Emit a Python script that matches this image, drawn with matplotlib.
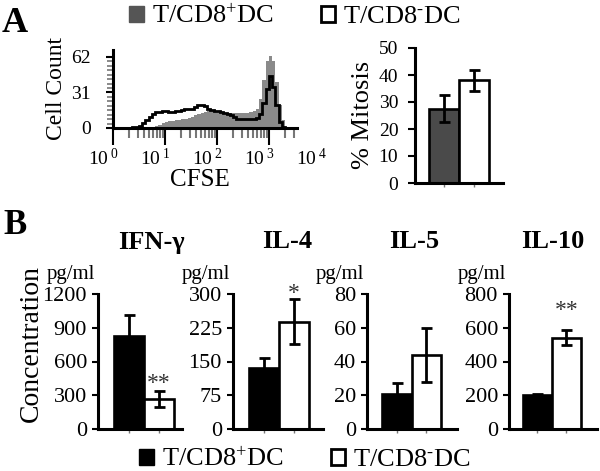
import numpy as np
import matplotlib
matplotlib.use("Agg")
import matplotlib.pyplot as plt
from matplotlib.patches import Patch

plt.rcParams['font.family'] = ['Liberation Serif', 'DejaVu Serif']
plt.rcParams['mathtext.fontset'] = 'custom'
plt.rcParams['mathtext.rm'] = 'Liberation Serif'
plt.rcParams['mathtext.it'] = 'Liberation Serif:italic'
plt.rcParams['mathtext.bf'] = 'Liberation Serif:bold'

# ---- data ----
groups = ['T/CD8$^{+}$DC', 'T/CD8$^{\u2010}$DC']

# CFSE histogram, 16 channels per decade starting at 10^0
channels_per_decade = 16
cfse_decades = [0, 1, 2, 3, 4]
cd8pos_counts = [0, 0, 0, 0, 0, 0, 0, 0, 0, 0, 0,
                 0.5, 1, 2, 3, 4, 5, 6, 6, 7, 7, 8, 8, 9, 10, 11, 12, 13, 14, 15, 15,
                 14, 14, 13, 13, 13, 13, 13, 13, 13, 13, 13, 14, 15, 17, 25, 42, 58, 63,
                 58, 40, 20, 7, 1,
                 0, 0, 0]
cd8neg_counts = [0, 0, 0, 0, 0, 0,
                 0.5, 1, 2, 4, 7, 10, 12, 14, 14, 15, 15, 14, 14, 15, 15, 16, 17, 17, 17,
                 18, 20, 20, 19, 17, 16, 15, 15, 14, 13, 12, 11, 10, 8, 8, 8, 8, 8, 8, 9,
                 12, 22, 34, 45, 36, 20, 5, 1,
                 0, 0, 0, 0]
count_ticks = [0, 31, 62]

mitosis_mean = [27.5, 38]
mitosis_err = [5, 4]

cytokines = ['IFN-γ', 'IL-4', 'IL-5', 'IL-10']
cyto_pos = [830, 135, 20.5, 200]
cyto_pos_err = [180, 22, 6.5, 8]
cyto_neg = [270, 238, 44, 540]
cyto_neg_err = [70, 50, 16, 45]
cyto_ticks = [[0, 300, 600, 900, 1200], [0, 75, 150, 225, 300],
              [0, 20, 40, 60, 80], [0, 200, 400, 600, 800]]
cyto_stars = ['**', '*', '', '**']

# ---- layout helpers ----
W, H = 600, 471
fig = plt.figure(figsize=(6, 4.71), dpi=100)


def box(l, t, r, b):
    return [l / W, 1 - b / H, (r - l) / W, (b - t) / H]


def pt(px):
    return px * 72 / 100


LW = 1.9
dark_gray = '#4a4a4a'
hist_gray = '#8a8a8a'

# ---- panel A: CFSE histogram ----
ax = fig.add_axes(box(113, 50, 297, 128))
edges = 10 ** (np.arange(len(cd8pos_counts) + 1) / channels_per_decade)
ax.stairs(cd8pos_counts, edges, fill=True, color=hist_gray, zorder=1)
ax.stairs(cd8neg_counts, edges, color='black', lw=2, zorder=2)
ax.set_xscale('log')
ax.set_xlim(1, 10 ** 3.54)
ax.set_ylim(0, 68)
ax.set_yticks(count_ticks)
ax.set_yticks(np.linspace(0, 62, 17), minor=True)
ax.set_xticklabels([])
ax.set_xticklabels([], minor=True)
ax.tick_params(axis='x', which='major', length=12, width=1.5, direction='out')
ax.tick_params(axis='x', which='minor', length=7, width=1.5, color='#777777', direction='out')
ax.tick_params(axis='y', which='major', length=5, width=1.5, pad=11, labelsize=14)
ax.tick_params(axis='y', which='minor', length=4, width=1.2, color='#777777')
for s in ['top', 'right']:
    ax.spines[s].set_visible(False)
for s in ['left', 'bottom']:
    ax.spines[s].set_linewidth(2.2)
for d in cfse_decades:
    ax.annotate(r'$\mathregular{10^{\ %d}}$' % d, xy=(10 ** d, 0),
                xycoords=ax.get_xaxis_transform(), xytext=(pt(-9), pt(-20)),
                textcoords='offset points', ha='center', va='top', fontsize=14,
                annotation_clip=False)
fig.text(56 / W, 1 - 89 / H, 'Cell Count', rotation=90, ha='center', va='center', fontsize=17)
fig.text(200 / W, 1 - 180 / H, 'CFSE', ha='center', va='center', fontsize=18)

# ---- panel A: % mitosis ----
ax = fig.add_axes(box(415, 48, 503, 183))
ax.bar([0, 1], mitosis_mean, width=1, color=[dark_gray, 'white'],
       edgecolor='black', linewidth=LW, zorder=2)
ax.errorbar([0, 1], mitosis_mean, yerr=mitosis_err, fmt='none', ecolor='black',
            elinewidth=2, capsize=pt(5.5), capthick=2, zorder=3)
ax.set_xlim(-0.967, 1.967)
ax.set_ylim(0, 50)
ax.set_yticks([0, 10, 20, 30, 40, 50])
ax.set_xticks([0, 1])
ax.set_xticklabels([])
ax.tick_params(axis='y', length=5, width=1.5, pad=7, labelsize=14)
ax.tick_params(axis='x', length=3, width=1, color='#777777')
for s in ['top', 'right']:
    ax.spines[s].set_visible(False)
for s in ['left', 'bottom']:
    ax.spines[s].set_linewidth(2.2)
fig.text(363 / W, 1 - 115 / H, '% Mitosis', rotation=90, ha='center', va='center', fontsize=19)

fig.text(15 / W, 1 - 24 / H, 'A', fontsize=26, fontweight='bold', ha='center', va='center')
fig.legend([Patch(facecolor='#555555', edgecolor='#555555'),
            Patch(facecolor='white', edgecolor='black', linewidth=2)],
           groups, loc='center', bbox_to_anchor=(295 / W, 1 - 16 / H), ncol=2,
           frameon=False, fontsize=19, handlelength=0.55, handleheight=0.55,
           handletextpad=0.3, columnspacing=1.8, borderpad=0, borderaxespad=0)

# ---- panel B: cytokines ----
b_boxes = [(98, 182), (233, 323), (367, 457), (509, 597)]
b_xlims = [(-1.03, 1.77), (-1.03, 1.97), (-1.0, 2.03), (-0.97, 2.05)]
star_offset = [-3, -5, 0, 9]
title_dx = [8, 8, 3, 1]
for i, name in enumerate(cytokines):
    l, r = b_boxes[i]
    ax = fig.add_axes(box(l, 294, r, 429))
    ax.bar([0, 1], [cyto_pos[i], cyto_neg[i]], width=1, color=['black', 'white'],
           edgecolor='black', linewidth=LW, zorder=2)
    ax.errorbar([0, 1], [cyto_pos[i], cyto_neg[i]], yerr=[cyto_pos_err[i], cyto_neg_err[i]],
                fmt='none', ecolor='black', elinewidth=2, capsize=pt(5.5), capthick=2, zorder=3)
    ax.set_xlim(*b_xlims[i])
    ax.set_ylim(0, cyto_ticks[i][-1])
    ax.set_yticks(cyto_ticks[i])
    ax.set_xticks([0, 1])
    ax.set_xticklabels([])
    ax.tick_params(axis='y', length=4, width=1.5, pad=4, labelsize=16)
    ax.tick_params(axis='x', length=3, width=1, color='#777777')
    for s in ['top', 'right']:
        ax.spines[s].set_visible(False)
    for s in ['left', 'bottom']:
        ax.spines[s].set_linewidth(2.2)
    if cyto_stars[i]:
        ax.annotate(cyto_stars[i], xy=(1, cyto_neg[i] + cyto_neg_err[i]),
                    xytext=(0, pt(star_offset[i])), textcoords='offset points',
                    ha='center', va='bottom', fontsize=17, color='#333333')
    ax.annotate('pg/ml', xy=(0, 1), xycoords='axes fraction', xytext=(pt(-27), pt(20)),
                textcoords='offset points', ha='center', va='center', fontsize=15,
                annotation_clip=False)
    ax.annotate(name, xy=(0.5, 1), xycoords=ax.get_xaxis_transform(),
                xytext=(pt(title_dx[i]), pt(52)), textcoords='offset points',
                ha='center', va='center', fontsize=19, fontweight='bold',
                annotation_clip=False)

fig.text(31 / W, 1 - 343 / H, 'Concentration', rotation=90, ha='center', va='center', fontsize=20)
fig.text(15 / W, 1 - 225 / H, 'B', fontsize=25, fontweight='bold', ha='center', va='center')
fig.legend([Patch(facecolor='black', edgecolor='black'),
            Patch(facecolor='white', edgecolor='black', linewidth=2)],
           groups, loc='center', bbox_to_anchor=(305 / W, 1 - 459 / H), ncol=2,
           frameon=False, fontsize=19, handlelength=0.55, handleheight=0.55,
           handletextpad=0.3, columnspacing=1.8, borderpad=0, borderaxespad=0)

fig.savefig('out.png', dpi=100)
